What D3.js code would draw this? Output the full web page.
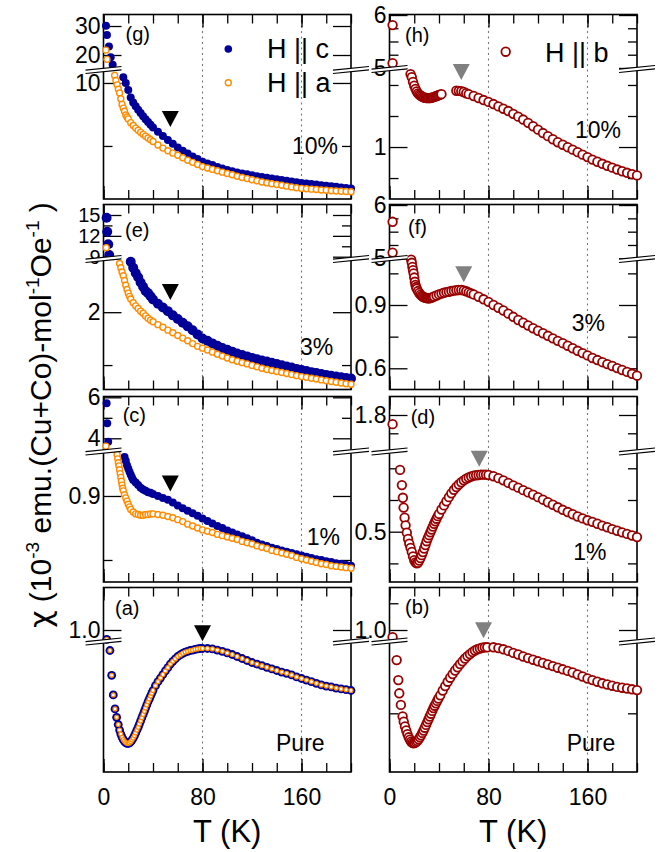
<!DOCTYPE html>
<html><head><meta charset="utf-8">
<script src="https://cdn.jsdelivr.net/npm/d3@7"></script>
<style>body{margin:0;background:#fff}svg{display:block}text{font-family:"Liberation Sans",Arial,sans-serif;fill:#000}</style>
</head><body><svg id="c" width="668" height="852"></svg>
<script>
// ---------- DATA ----------
const T84 = [84,88,92,96,100,104,108,112,116,120,124,128,132,136,140,144,148,152,156,160,164,168,172,176,180,184,188,192,196,200];
const xMinorTicks = [0,20,40,60,80,100,120,140,160,180,200];
const xMajorTicks = [0,80,160];

// (g) 10%  H||c (blue) and H||a (orange)
const gC_Thi = [2,2.8,4.4,5.8,7.4];
const gC_hi  = [30.1,26.9,22.9,19.2,16.6];
const gC_T = [16,18,20,22,24,26,28,30,32,34,36,38,40,44,48,52,56,60,64,68,72,76,80,...T84];
const gC   = [10.45,10.0,9.45,8.85,8.45,8.15,7.88,7.62,7.36,7.12,6.9,6.68,6.47,
  6.12,5.8,5.48,5.18,4.88,4.63,4.4,4.17,3.96,3.75,
  3.61,3.48,3.34,3.21,3.09,2.99,2.9,2.82,2.75,2.68,2.6,2.53,2.47,2.41,2.36,2.3,2.24,2.18,2.12,2.07,2.02,1.98,1.94,1.89,1.85,1.8,1.76,1.71,1.67,1.63];
const gA_Thi = [2,2.8];
const gA_hi  = [21.7,18.5];
const gA_T = [9,10,11,12,13,14,15,16,17,18,19,20,22,24,26,28,30,32,34,36,38,40,44,48,52,56,60,64,68,72,76,80,...T84];
const gA   = [10.6,10.2,9.85,9.5,9.2,8.75,8.3,8.0,7.75,7.46,7.3,7.15,6.85,6.62,6.42,6.25,6.08,5.92,5.78,5.63,5.49,5.35,
  5.08,4.83,4.62,4.43,4.26,4.06,3.87,3.7,3.53,3.36,
  3.25,3.14,3.03,2.92,2.82,2.71,2.6,2.5,2.41,2.32,2.23,2.14,2.07,2.0,1.94,1.88,1.81,1.75,1.68,1.63,1.6,1.57,1.54,1.51,1.48,1.45,1.43,1.41,1.39,1.37];

// (h) 10%  H||b
const hB_Thi = [2.5,2.5];
const hB_hi  = [5.81,5.09];
const hB_T = [17,18,19,20,21,22,23,24,25,26,27,28,29,30,31,32,33,34,35,36,37,38,39,40,41,42,54,56,58,60,62,64,68,72,76,80,...T84];
const hB   = [1.47,1.45,1.42,1.395,1.375,1.358,1.346,1.338,1.332,1.327,1.322,1.319,1.317,1.316,1.315,1.315,1.316,1.318,1.32,1.323,1.326,1.329,1.332,1.335,1.338,1.341,
  1.363,1.362,1.36,1.355,1.347,1.341,1.329,1.316,1.303,1.291,
  1.277,1.262,1.247,1.232,1.214,1.196,1.177,1.156,1.134,1.112,1.09,1.07,1.05,1.031,1.015,0.999,0.983,0.967,0.951,0.935,0.919,0.905,0.892,0.879,0.867,0.855,0.844,0.834,0.825,0.817];

// (e) 3%
const eC_Thi = [2.5,3,3.8,4.6];
const eC_hi  = [14.6,12.6,10.8,9.25];
const eC_T = [22,24,26,28,30,32,34,36,38,40,44,48,52,56,60,64,68,72,76,80,...T84];
const eC   = [2.477,2.42,2.37,2.33,2.28,2.24,2.2,2.18,2.15,2.12,
  2.08,2.045,2.01,1.97,1.935,1.9,1.866,1.83,1.79,1.752,
  1.73,1.705,1.683,1.662,1.645,1.627,1.61,1.596,1.582,1.568,1.555,1.543,1.533,1.522,1.51,1.498,1.487,1.476,1.464,1.453,1.443,1.433,1.424,1.415,1.407,1.399,1.391,1.384,1.378,1.373];
const eA_Thi = [2.2];
const eA_hi  = [10.3];
const eA_T = [13,14,15,16,17,18,19,20,21,22,24,26,28,30,32,34,36,38,40,44,48,52,56,60,64,68,72,76,80,...T84];
const eA   = [2.46,2.42,2.38,2.345,2.3,2.255,2.215,2.18,2.15,2.125,
  2.09,2.06,2.035,2.01,1.99,1.965,1.943,1.925,1.91,
  1.882,1.857,1.83,1.805,1.78,1.755,1.73,1.703,1.677,1.66,
  1.642,1.622,1.603,1.585,1.567,1.55,1.536,1.523,1.511,1.497,1.483,1.47,1.458,1.448,1.439,1.43,1.42,1.41,1.4,1.391,1.384,1.376,1.368,1.36,1.352,1.344,1.337,1.33,1.324,1.318];

// (f) 3%
const fB_Thi = [2.5,2.5];
const fB_hi  = [5.685,5.107];
const fB_T = [17.5,18,18.5,19,19.5,20,20.5,21,21.5,22,23,24,25,26,27,28,29,30,31,32,33,34,35,36,38,40,42,44,46,48,50,52,54,56,58,60,62,64,66,68,72,76,80,...T84];
const fB   = [1.115,1.1,1.08,1.065,1.05,1.03,1.01,0.995,0.985,0.977,
  0.966,0.957,0.949,0.943,0.939,0.936,0.934,0.933,0.932,0.932,0.933,0.935,0.937,0.94,
  0.945,0.95,0.954,0.958,0.961,0.963,0.966,0.968,0.97,0.971,0.971,0.969,0.965,0.96,0.955,0.95,
  0.939,0.927,0.915,
  0.9,0.887,0.874,0.859,0.844,0.829,0.816,0.803,0.79,0.778,0.766,0.754,0.742,0.73,0.719,0.707,0.695,0.683,0.672,0.661,0.649,0.639,0.629,0.62,0.611,0.601,0.592,0.583,0.574,0.565];

// (c) 1%
const cC_Thi = [2.5,3,3.8];
const cC_hi  = [5.71,4.73,3.83];
const cC_T = [17,18,19,20,21,22,23,24,26,28,30,32,34,36,38,40,44,48,52,56,60,64,68,72,76,80,...T84];
const cC   = [0.961,0.955,0.948,0.943,0.938,0.933,0.929,0.925,
  0.921,0.917,0.913,0.91,0.908,0.906,0.905,0.903,
  0.9,0.897,0.894,0.89,0.885,0.881,0.877,0.873,0.869,0.865,
  0.861,0.857,0.853,0.85,0.846,0.843,0.84,0.837,0.834,0.831,0.827,0.824,0.822,0.819,0.817,0.815,0.813,0.811,0.809,0.807,0.805,0.803,0.801,0.8,0.798,0.797,0.795,0.794,0.792,0.791];
const cA_Thi = [2];
const cA_hi  = [3.62];
const cA_T = [11,11.5,12,12.5,13,13.5,14,14.5,15,15.5,16,17,18,19,20,21,22,24,26,28,30,32,34,36,38,40,44,48,52,56,60,64,68,72,76,80,...T84];
const cA   = [0.965,0.958,0.952,0.947,0.941,0.935,0.929,0.923,0.917,0.912,0.908,0.902,0.897,0.892,0.887,0.883,0.879,
  0.875,0.872,0.871,0.87,0.87,0.871,0.871,0.872,0.872,
  0.871,0.87,0.868,0.866,0.863,0.86,0.856,0.853,0.85,0.847,
  0.845,0.843,0.84,0.838,0.836,0.834,0.832,0.829,0.827,0.825,0.822,0.82,0.818,0.815,0.813,0.811,0.809,0.807,0.804,0.802,0.8,0.798,0.796,0.794,0.793,0.791,0.79,0.789,0.788,0.787];

// (d) 1%
const dB_Thi = [2.5];
const dB_hi  = [1.775];
const dB_T = [8.5,10,10.8,11.4,12.2,13,14,15,16,17,18,19,20,21,22,23,24,25,26,27,28,29,30,31,32,33,34,35,36,37,38,39,40,
  42,44,46,48,50,52,54,56,58,60,62,64,66,68,70,72,74,76,78,80,...T84];
const dB   = [0.695,0.647,0.607,0.576,0.544,
  0.52,0.497,0.477,0.462,0.449,0.436,0.422,0.41,0.403,0.4,0.402,0.409,0.417,0.426,0.436,0.447,0.458,0.47,0.48,0.489,0.498,0.507,0.516,0.525,0.533,0.541,0.549,0.556,
  0.57,0.583,0.596,0.609,0.621,0.632,0.641,0.649,0.656,0.662,0.667,0.671,0.674,0.677,0.678,0.679,0.68,0.68,0.68,0.679,
  0.675,0.669,0.662,0.654,0.646,0.639,0.631,0.624,0.617,0.609,0.601,0.593,0.585,0.577,0.569,0.562,0.555,0.548,0.542,0.536,0.531,0.525,0.519,0.514,0.508,0.503,0.498,0.493,0.488,0.483];

// (a) pure
const aC_Thi = [2.6];
const aC_hi  = [0.965];
const aC_T = [5.2,6.6,7.9,9.3,10.6,11.9,13,14,15,16,17,18,19,20,21,22,23,24,25,26,27,28,29,30,31,32,33,34,35,36,37,38,39,40,
  42,44,46,48,50,52,54,56,58,60,62,64,66,68,70,72,74,76,78,80,...T84];
const aC   = [0.957,0.895,0.846,0.811,0.79,0.772,
  0.758,0.748,0.74,0.734,0.73,0.727,0.725,0.725,0.726,0.729,0.733,0.738,0.744,0.751,0.758,0.765,0.773,0.781,0.789,0.797,0.805,0.813,0.821,0.829,0.836,0.843,0.85,0.857,
  0.869,0.879,0.888,0.897,0.906,0.914,0.923,0.93,0.936,0.942,0.946,0.95,0.953,0.955,0.957,0.958,0.96,0.961,0.962,0.962,
  0.962,0.961,0.958,0.955,0.951,0.947,0.942,0.937,0.932,0.927,0.923,0.919,0.915,0.911,0.907,0.903,0.9,0.896,0.891,0.887,0.883,0.879,0.875,0.871,0.868,0.866,0.863,0.861,0.859,0.857];
const aA_Thi = [2.6];
const aA_hi  = [0.965];
const aA_T = [5.2,6.6,7.9,9.3,10.6,11.9,13,14,15,16,17,18,19,20,21,22,23,24,25,26,27,28,29,30,31,32,33,34,35,36,37,38,39,40,
  42,44,46,48,50,52,54,56,58,60,62,64,66,68,70,72,74,76,78,80,...T84];
const aA   = [0.957,0.895,0.846,0.811,0.79,0.772,
  0.758,0.748,0.74,0.734,0.73,0.727,0.725,0.725,0.726,0.729,0.733,0.738,0.744,0.751,0.758,0.765,0.773,0.781,0.789,0.797,0.805,0.813,0.821,0.829,0.836,0.843,0.85,0.857,
  0.869,0.879,0.888,0.897,0.906,0.914,0.923,0.93,0.936,0.942,0.946,0.95,0.953,0.955,0.957,0.958,0.96,0.961,0.962,0.962,
  0.962,0.961,0.958,0.955,0.951,0.947,0.942,0.937,0.932,0.927,0.923,0.919,0.915,0.911,0.907,0.903,0.9,0.896,0.891,0.887,0.883,0.879,0.875,0.871,0.868,0.866,0.863,0.861,0.859,0.857];

// (b) pure
const bB_Thi = [2.5];
const bB_hi  = [0.973];
const bB_T = [5.8,7.1,7.9,9.2,10.6,11.5,12.5,13.5,14.5,15.5,16.5,17.5,18.5,19.5,20.5,21.5,22.5,23.5,24.5,25.5,26.5,27.5,28.5,29.5,30.5,31.5,32.5,33.5,34.5,35.5,36.5,37.5,38.5,39.5,
  41,43,45,47,49,51,53,55,57,59,61,63,65,67,69,71,73,75,77,79,...T84];
const bB   = [0.933,0.883,0.85,0.821,0.792,
  0.779,0.767,0.757,0.748,0.74,0.734,0.729,0.726,0.725,0.726,0.728,0.731,0.735,0.74,0.745,0.751,0.757,0.764,0.771,0.778,0.785,0.792,0.799,0.806,0.813,0.819,0.825,0.831,0.837,
  0.845,0.857,0.868,0.879,0.889,0.898,0.907,0.915,0.923,0.93,0.937,0.943,0.948,0.953,0.957,0.96,0.962,0.964,0.965,0.965,
  0.965,0.963,0.96,0.956,0.951,0.947,0.942,0.938,0.934,0.93,0.926,0.922,0.918,0.914,0.91,0.906,0.902,0.897,0.892,0.887,0.883,0.879,0.875,0.872,0.869,0.866,0.864,0.862,0.86,0.858];

// y tick values and labels (upper / lower segments)
const gUpTicks=[30,20], gUpLabels=['30','20'], gLoTicks=[10,5], gLoLabels=['10',''];
const hUpTicks=[6,5.75,5.5,5.25,5], hUpLabels=['6','','','','5'], hLoTicks=[1.4,1.2,1,0.8], hLoLabels=['','','1',''];
const eUpTicks=[15,13.5,12,10.5,9], eUpLabels=['15','','12','','9'], eLoTicks=[2,1.5], eLoLabels=['2',''];
const fUpTicks=[6,5.75,5.5,5.25,5], fUpLabels=['6','','','','5'], fLoTicks=[1.05,0.9,0.75,0.6], fLoLabels=['','0.9','','0.6'];
const cUpTicks=[6,5,4], cUpLabels=['6','','4'], cLoTicks=[0.9,0.8], cLoLabels=['0.9',''];
const dUpTicks=[1.8,1.75], dUpLabels=['1.8',''], dLoTicks=[0.7,0.6,0.5,0.4], dLoLabels=['','','0.5',''];
const aUpTicks=[1.0], aUpLabels=['1.0'], aLoTicks=[], aLoLabels=[];
const bUpTicks=[1.1,1.0], bUpLabels=['','1.0'], bLoTicks=[0.8], bLoLabels=[''];

// arrow (triangle) markers: T and chi (lower-segment value at tip)
const arrowPanel = ['g','h','e','f','c','d','a','b'];
const arrowT     = [54,58,54,60,54,72.5,80,76];
const arrowChi   = [6.51,1.432,2.116,1.008,0.907,0.705,0.98,0.9875];

const notes = ['10%','10%','3%','3%','1%','1%','Pure','Pure'];

// ---------- LAYOUT ----------
const svg = d3.select('#c');
const xL = d3.scaleLinear().domain([0,200]).range([103.5,351]);
const xR = d3.scaleLinear().domain([0,200]).range([389.5,637]);
const rows = [[14.5,199],[204.5,389.5],[396.5,582],[587.5,772]];
const BLUE='#000099', ORANGE='#ff8c00', RED='#990000';

const blue = r=>({fill:BLUE,stroke:'none',sw:0,r});
const orange = (r,sw)=>({fill:'#fff',stroke:ORANGE,sw,r});
const red = {fill:'#fff',stroke:RED,sw:1.8,r:4.3};

const panels = [
 {id:'g',x:xL,row:0,brk:70,up:[14.83,33.97],lo:[0.79,11.03],ut:gUpTicks,ul:gUpLabels,lt:gLoTicks,ll:gLoLabels,upFont:23,
  series:[[gC_Thi,gC_hi,gC_T,gC,blue(4)],[gA_Thi,gA_hi,gA_T,gA,orange(3,1.4)]],tag:[125.5,41],note:[292,154],arrow:'#000'},
 {id:'h',x:xR,row:0,brk:69,up:[4.98,6.01],lo:[0.665,1.503],ut:hUpTicks,ul:hUpLabels,lt:hLoTicks,ll:hLoLabels,upFont:23,
  series:[[hB_Thi,hB_hi,hB_T,hB,red]],tag:[405,42],note:[575,138],arrow:'#808080'},
 {id:'e',x:xL,row:1,brk:259,up:[8.67,16.51],lo:[1.269,2.503],ut:eUpTicks,ul:eUpLabels,lt:eLoTicks,ll:eLoLabels,upFont:20,
  series:[[eC_Thi,eC_hi,eC_T,eC,blue(5)],[eA_Thi,eA_hi,eA_T,eA,orange(3,1.4)]],tag:[125,237],note:[300,354.6],arrow:'#000'},
 {id:'f',x:xR,row:1,brk:259,up:[4.987,6.01],lo:[0.4995,1.118],ut:fUpTicks,ul:fUpLabels,lt:fLoTicks,ll:fLoLabels,upFont:23,
  series:[[fB_Thi,fB_hi,fB_T,fB,red]],tag:[408,233.5],note:[571.7,331],arrow:'#808080'},
 {id:'c',x:xL,row:2,brk:451.5,up:[3.356,6.04],lo:[0.7656,0.9695],ut:cUpTicks,ul:cUpLabels,lt:cLoTicks,ll:cLoLabels,upFont:23,
  series:[[cC_Thi,cC_hi,cC_T,cC,blue(4)],[cA_Thi,cA_hi,cA_T,cA,orange(3,1.4)]],tag:[122.7,422],note:[306.7,544.6],arrow:'#000'},
 {id:'d',x:xR,row:2,brk:451.5,up:[1.7003,1.8505],lo:[0.3413,0.753],ut:dUpTicks,ul:dUpLabels,lt:dLoTicks,ll:dLoLabels,upFont:23,
  series:[[dB_Thi,dB_hi,dB_T,dB,red]],tag:[410.7,423.5],note:[573.3,559.6],arrow:'#808080'},
 {id:'a',x:xL,row:3,brk:641.5,up:[0.957,1.159],lo:[0.6533,0.9795],ut:aUpTicks,ul:aUpLabels,lt:aLoTicks,ll:aLoLabels,upFont:23,
  series:[[aC_Thi,aC_hi,aC_T,aC,blue(4.4)],[aA_Thi,aA_hi,aA_T,aA,orange(2,1.2)]],tag:[115,615],note:[276,751],arrow:'#000'},
 {id:'b',x:xR,row:3,brk:641.5,up:[0.957,1.159],lo:[0.6533,0.9795],ut:bUpTicks,ul:bUpLabels,lt:bLoTicks,ll:bLoLabels,upFont:23,
  series:[[bB_Thi,bB_hi,bB_T,bB,red]],tag:[405,613.5],note:[566.7,751],arrow:'#808080'}
];

function styleAxis(sel, fs){
  sel.select('.domain').remove();
  sel.selectAll('.tick line').attr('stroke','#000').attr('stroke-width',1.3);
  sel.selectAll('.tick text').style('font-size',(fs||23)+'px').style('font-family','"Liberation Sans",Arial,sans-serif');
  sel.attr('font-family',null).attr('font-size',null);
}

panels.forEach((p,pi)=>{
  const [top,bot] = rows[p.row];
  const x0 = p.x.range()[0], x1 = p.x.range()[1];
  const yU = d3.scaleLinear().domain(p.up).range([p.brk, top]);
  const yL = d3.scaleLinear().domain(p.lo).range([bot, p.brk]);
  const g = svg.append('g');

  // dotted guide lines
  [80,160].forEach(t=>{
    g.append('line').attr('x1',p.x(t)).attr('x2',p.x(t)).attr('y1',top).attr('y2',bot)
     .attr('stroke','#777').attr('stroke-width',1.1).attr('stroke-dasharray','2,3.5');
  });

  // x ticks top & bottom (inward)
  g.append('g').attr('transform',`translate(0,${top})`).call(d3.axisTop(p.x).tickValues(xMinorTicks).tickSize(-9).tickFormat('')).call(styleAxis);
  g.append('g').attr('transform',`translate(0,${top})`).call(d3.axisTop(p.x).tickValues(xMajorTicks).tickSize(-13).tickFormat('')).call(styleAxis);
  g.append('g').attr('transform',`translate(0,${bot})`).call(d3.axisBottom(p.x).tickValues(xMinorTicks).tickSize(-9).tickFormat('')).call(styleAxis);
  const bottomMajor = d3.axisBottom(p.x).tickValues(xMajorTicks).tickSize(-13).tickPadding(17);
  if (p.row!==3) bottomMajor.tickFormat('');
  g.append('g').attr('transform',`translate(0,${bot})`).call(bottomMajor).call(styleAxis);

  // y ticks
  const addY = (scale, vals, labs, fs)=>{
    const maj = vals.filter((v,i)=>labs[i]!=='');
    const mnr = vals.filter((v,i)=>labs[i]==='');
    const lab = new Map(vals.map((v,i)=>[v,labs[i]]));
    g.append('g').attr('transform',`translate(${x0},0)`).call(d3.axisLeft(scale).tickValues(maj).tickSize(-18).tickPadding(3).tickFormat(d=>lab.get(d))).call(styleAxis, fs);
    g.append('g').attr('transform',`translate(${x0},0)`).call(d3.axisLeft(scale).tickValues(mnr).tickSize(-9).tickFormat('')).call(styleAxis);
    g.append('g').attr('transform',`translate(${x1},0)`).call(d3.axisRight(scale).tickValues(maj).tickSize(-18).tickFormat('')).call(styleAxis);
    g.append('g').attr('transform',`translate(${x1},0)`).call(d3.axisRight(scale).tickValues(mnr).tickSize(-9).tickFormat('')).call(styleAxis);
  };
  addY(yU, p.ut, p.ul, p.upFont);
  addY(yL, p.lt, p.ll, 23);

  // frame
  g.append('rect').attr('x',x0).attr('y',top).attr('width',x1-x0).attr('height',bot-top)
   .attr('fill','none').attr('stroke','#000').attr('stroke-width',1.6);

  // data
  p.series.forEach(([Th,vh,T,v,st])=>{
    const pts = d3.zip(Th,vh).map(d=>[p.x(d[0]),yU(d[1])]).concat(d3.zip(T,v).map(d=>[p.x(d[0]),yL(d[1])]));
    g.append('g').selectAll('circle').data(pts).join('circle')
     .attr('cx',d=>d[0]).attr('cy',d=>d[1]).attr('r',st.r)
     .attr('fill',st.fill).attr('stroke',st.stroke).attr('stroke-width',st.sw);
  });

  // axis break marks
  [x0,x1].forEach(xb=>{
    const dx=18, s=1.8, gp=1.7, y=p.brk;
    g.append('path').attr('d',`M${xb-dx},${y+s-gp}L${xb+dx},${y-s-gp}L${xb+dx},${y-s+gp}L${xb-dx},${y+s+gp}Z`).attr('fill','#fff');
    g.append('line').attr('x1',xb-dx).attr('y1',y+s-gp).attr('x2',xb+dx).attr('y2',y-s-gp).attr('stroke','#000').attr('stroke-width',1.1);
    g.append('line').attr('x1',xb-dx).attr('y1',y+s+gp).attr('x2',xb+dx).attr('y2',y-s+gp).attr('stroke','#000').attr('stroke-width',1.1);
  });

  // arrow marker
  const ai = arrowPanel.indexOf(p.id);
  const ax = p.x(arrowT[ai]), ay = yL(arrowChi[ai]);
  g.append('path').attr('d',`M${ax-8.5},${ay-16}L${ax+8.5},${ay-16}L${ax},${ay}Z`).attr('fill',p.arrow);

  // texts
  g.append('text').attr('x',p.tag[0]).attr('y',p.tag[1]).style('font-size','20px').text(`(${p.id})`);
  g.append('text').attr('x',p.note[0]).attr('y',p.note[1]).style('font-size','23px').text(notes[pi]);

  if (p.row===3){
    svg.append('text').attr('x',(x0+x1)/2).attr('y',842).attr('text-anchor','middle').style('font-size','31px').text('T (K)');
  }
});

// legends
const lg = svg.append('g');
lg.append('circle').attr('cx',228.3).attr('cy',49).attr('r',3.8).attr('fill',BLUE);
lg.append('text').attr('x',267).attr('y',57.5).style('font-size','27px').text('H || c');
lg.append('circle').attr('cx',228.3).attr('cy',82.7).attr('r',3).attr('fill','#fff').attr('stroke',ORANGE).attr('stroke-width',1.4);
lg.append('text').attr('x',267).attr('y',91.5).style('font-size','27px').text('H || a');
lg.append('circle').attr('cx',505.7).attr('cy',51.7).attr('r',4.3).attr('fill','#fff').attr('stroke',RED).attr('stroke-width',1.8);
lg.append('text').attr('x',545).attr('y',61.5).style('font-size','27px').text('H || b');

// y axis label
const yl = svg.append('text').attr('transform','translate(51,415) rotate(-90)').attr('text-anchor','middle').style('font-size','30px');
yl.append('tspan').style('font-family','"DejaVu Sans",sans-serif').text('χ');
yl.append('tspan').text(' (10');
yl.append('tspan').attr('dy',-12).style('font-size','19px').text('-3');
yl.append('tspan').attr('dy',12).text(' emu.(Cu+Co)-mol');
yl.append('tspan').attr('dy',-12).style('font-size','19px').text('-1');
yl.append('tspan').attr('dy',12).text('Oe');
yl.append('tspan').attr('dy',-12).style('font-size','19px').text('-1');
yl.append('tspan').attr('dy',12).text(' )');
</script>
</body></html>
